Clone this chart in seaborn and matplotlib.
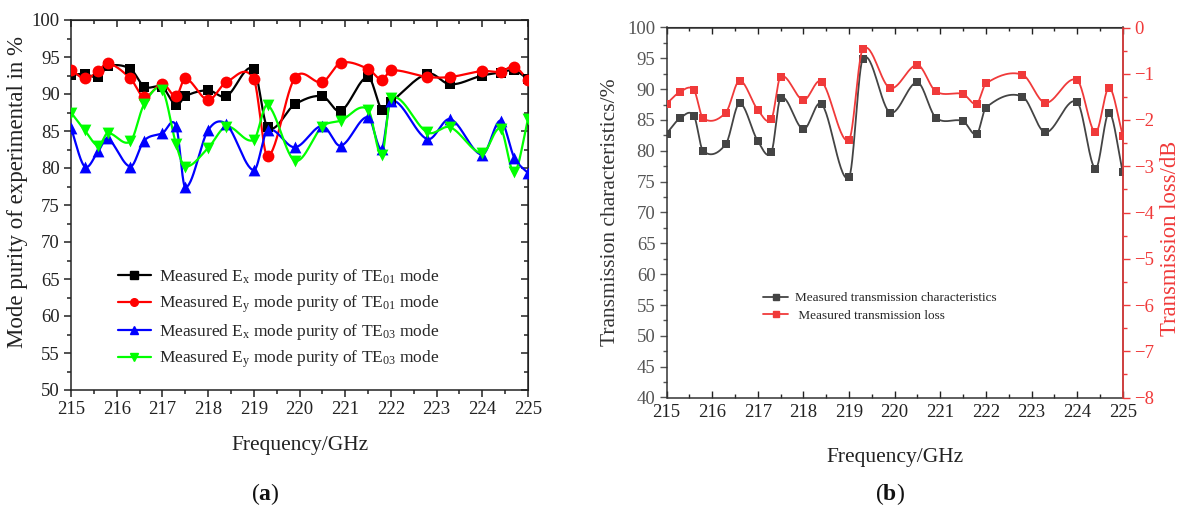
import numpy as np
import pandas as pd
import matplotlib
matplotlib.use("Agg")
import matplotlib.pyplot as plt
from matplotlib.lines import Line2D
from matplotlib.ticker import MultipleLocator
import seaborn as sns

# ---------------- data ----------------
freq = [215.0, 215.3, 215.6, 215.8, 216.3, 216.6, 217.0, 217.3, 217.5, 218.0,
        218.4, 219.0, 219.3, 219.9, 220.5, 220.9, 221.5, 221.8, 222.0, 222.8,
        223.3, 224.0, 224.4, 224.7, 225.0]

ex_te01 = [92.6, 92.7, 92.3, 93.75, 93.4, 91.0, 90.9, 88.45, 89.7, 90.5,
           89.7, 93.4, 85.5, 88.6, 89.7, 87.7, 92.3, 87.9, 88.9, 92.75,
           91.3, 92.5, 92.9, 93.2, 92.0]
ey_te01 = [93.3, 92.1, 93.1, 94.2, 92.1, 89.6, 91.4, 89.7, 92.1, 89.2,
           91.6, 92.0, 81.6, 92.2, 91.6, 94.2, 93.4, 91.9, 93.2, 92.3,
           92.3, 93.1, 93.0, 93.7, 91.9]
ex_te03 = [85.4, 80.2, 82.3, 84.0, 80.2, 83.7, 84.7, 85.7, 77.4, 85.1,
           85.9, 79.7, 85.1, 82.8, 85.7, 83.0, 86.9, 82.6, 89.1, 83.9,
           86.6, 81.8, 86.4, 81.4, 79.3]
ey_te03 = [87.5, 85.1, 83.0, 84.7, 83.6, 88.6, 90.5, 83.2, 80.2, 82.7,
           85.6, 83.8, 88.5, 81.0, 85.6, 86.4, 87.9, 81.7, 89.5, 84.8,
           85.5, 82.0, 85.3, 79.4, 86.6]

transmission = [82.8, 85.3, 85.7, 80.0, 81.1, 87.7, 81.6, 79.8, 88.6, 83.5,
                87.6, 75.7, 94.9, 86.2, 91.1, 85.4, 84.8, 82.7, 87.0, 88.8,
                83.0, 87.9, 77.1, 86.2, 76.5]
loss_db = [-1.65, -1.39, -1.35, -1.96, -1.84, -1.15, -1.78, -1.98, -1.06, -1.57,
           -1.17, -2.43, -0.47, -1.31, -0.81, -1.38, -1.44, -1.65, -1.21, -1.02,
           -1.63, -1.14, -2.27, -1.30, -2.34]

labels_a = [r"Measured E$_\mathregular{x}$ mode purity of TE$_\mathregular{01}$ mode",
            r"Measured E$_\mathregular{y}$ mode purity of TE$_\mathregular{01}$ mode",
            r"Measured E$_\mathregular{x}$ mode purity of TE$_\mathregular{03}$ mode",
            r"Measured E$_\mathregular{y}$ mode purity of TE$_\mathregular{03}$ mode"]
labels_b = ["Measured transmission characteristics", " Measured transmission loss"]

# ---------------- style ----------------
sns.set_style("ticks")
plt.rcParams["font.family"] = ["Liberation Serif", "DejaVu Serif"]
plt.rcParams["mathtext.fontset"] = "custom"
plt.rcParams["mathtext.rm"] = "Liberation Serif"
plt.rcParams["mathtext.bf"] = "Liberation Serif:bold"
plt.rcParams["mathtext.it"] = "Liberation Serif:italic"


def smooth(x, y, n=30):
    """Cubic Hermite curve through the points (centred-difference tangents)."""
    x = np.asarray(x, float)
    y = np.asarray(y, float)
    m = np.empty_like(y)
    m[1:-1] = (y[2:] - y[:-2]) / (x[2:] - x[:-2])
    m[0] = (y[1] - y[0]) / (x[1] - x[0])
    m[-1] = (y[-1] - y[-2]) / (x[-1] - x[-2])
    xs, ys = [], []
    for i in range(len(x) - 1):
        h = x[i + 1] - x[i]
        t = np.linspace(0, 1, n, endpoint=(i == len(x) - 2))
        h00 = 2 * t**3 - 3 * t**2 + 1
        h10 = t**3 - 2 * t**2 + t
        h01 = -2 * t**3 + 3 * t**2
        h11 = t**3 - t**2
        xs.append(x[i] + t * h)
        ys.append(h00 * y[i] + h10 * h * m[i] + h01 * y[i + 1] + h11 * h * m[i + 1])
    return pd.DataFrame({"x": np.concatenate(xs), "y": np.concatenate(ys)})


def draw_series(ax, x, y, color, marker, ms, lw):
    curve = smooth(x, y)
    sns.lineplot(data=curve, x="x", y="y", ax=ax, color=color, lw=lw,
                 sort=False, estimator=None, legend=False)
    pts = pd.DataFrame({"x": x, "y": y})
    sns.scatterplot(data=pts, x="x", y="y", ax=ax, color=color, marker=marker,
                    s=ms**2, edgecolor=color, linewidth=0, legend=False, zorder=3)


def mirror_ticks(ax, which_axis, major, minor, color, width):
    if which_axis == "x":
        sec = ax.secondary_xaxis("top")
        sec.xaxis.set_major_locator(MultipleLocator(major))
        sec.xaxis.set_minor_locator(MultipleLocator(minor))
        sec.tick_params(which="both", direction="in", labeltop=False,
                        width=width, colors=color)
    else:
        sec = ax.secondary_yaxis("right")
        sec.yaxis.set_major_locator(MultipleLocator(major))
        sec.yaxis.set_minor_locator(MultipleLocator(minor))
        sec.tick_params(which="both", direction="in", labelright=False,
                        width=width, colors=color)
    sec.tick_params(which="major", length=5)
    sec.tick_params(which="minor", length=3)


fig = plt.figure(figsize=(11.8, 5.12), dpi=100)

# ================= panel (a) =================
ax = fig.add_axes([71 / 1180, 1 - 390 / 512, 457 / 1180, 370 / 512])
series_a = [(ex_te01, "#000000", "s", 7.5),
            (ey_te01, "#ff0000", "o", 8.5),
            (ex_te03, "#0000ff", "^", 8.5),
            (ey_te03, "#00ff00", "v", 8.5)]
for vals, col, mk, ms in series_a:
    draw_series(ax, freq, vals, col, mk, ms, 1.6)

ax.set_xlim(215, 225)
ax.set_ylim(50, 100)
ax.xaxis.set_major_locator(MultipleLocator(1))
ax.xaxis.set_minor_locator(MultipleLocator(0.5))
ax.yaxis.set_major_locator(MultipleLocator(5))
ax.yaxis.set_minor_locator(MultipleLocator(2.5))
ax.tick_params(which="both", direction="out", colors="#222222", labelsize=13.5,
               width=1.1, pad=3)
ax.tick_params(which="major", length=5)
ax.tick_params(which="minor", length=3)
for sp in ax.spines.values():
    sp.set_linewidth(1.1)
    sp.set_color("#222222")
mirror_ticks(ax, "x", 1, 0.5, "#222222", 1.1)
mirror_ticks(ax, "y", 5, 2.5, "#222222", 1.1)

ax.set_xlabel("Frequency/GHz", fontsize=15.5, labelpad=13, color="#222222")
ax.set_ylabel("Mode purity of experimental in %", fontsize=16.5, color="#222222")
ax.yaxis.set_label_coords(-0.093, 0.535)

handles_a = [Line2D([], [], color=c, marker=m, markersize=5.5, lw=1.6)
             for _, c, m, _ in series_a]
ax.legend(handles_a, labels_a, loc="upper left", frameon=False, fontsize=12.5,
          bbox_to_anchor=(118 / 1180, 1 - 267 / 512), bbox_transform=fig.transFigure,
          borderpad=0, borderaxespad=0, handlelength=1.9, handletextpad=0.45,
          labelspacing=0.38)

fig.text(265 / 1180, 1 - 494 / 512, r"($\mathbf{a}$)", ha="center", va="center",
         fontsize=17, color="#111111")

# ================= panel (b) =================
bx = fig.add_axes([666.5 / 1180, 1 - 397.5 / 512, 456.3 / 1180, 370 / 512])
gray = "#444444"
red = "#f03a3a"
draw_series(bx, freq, transmission, gray, "s", 5.3, 1.3)
bx.set_xlim(215, 225)
bx.set_ylim(40, 100)
bx.xaxis.set_major_locator(MultipleLocator(1))
bx.xaxis.set_minor_locator(MultipleLocator(0.5))
bx.yaxis.set_major_locator(MultipleLocator(5))
bx.yaxis.set_minor_locator(MultipleLocator(2.5))
bx.tick_params(axis="y", which="both", direction="out", colors="#555555",
               labelsize=13.5, width=1.0, pad=3)
bx.tick_params(axis="x", which="both", direction="in", colors="#222222",
               labelsize=13.5, width=1.0, pad=5)
bx.tick_params(which="major", length=5)
bx.tick_params(which="minor", length=3)
for sp in bx.spines.values():
    sp.set_linewidth(1.1)
    sp.set_color("#333333")
mirror_ticks(bx, "x", 1, 0.5, "#222222", 1.0)

bx.set_ylabel("Transmission characteristics/%", fontsize=15.5, color="#333333")
bx.yaxis.set_label_coords(-0.103, 0.5)

rx = bx.twinx()
draw_series(rx, freq, loss_db, red, "s", 5.3, 1.3)
rx.set_ylim(-8, 0)
rx.yaxis.set_major_locator(MultipleLocator(1))
rx.yaxis.set_minor_locator(MultipleLocator(0.5))
rx.tick_params(axis="y", which="both", direction="out", colors=red,
               labelsize=13.5, width=1.0, pad=3)
rx.tick_params(which="major", length=5)
rx.tick_params(which="minor", length=3)
rx.spines["right"].set_color(red)
rx.spines["right"].set_linewidth(1.1)
for s in ("top", "left", "bottom"):
    rx.spines[s].set_visible(False)
rx.set_ylabel("Transmission loss/dB", fontsize=16.3, color=red)
rx.yaxis.set_label_coords(1.081, 0.43)
rx.set_xlabel("")
bx.set_xlabel("Frequency/GHz", fontsize=15.5, labelpad=19, color="#222222")

handles_b = [Line2D([], [], color=gray, marker="s", markersize=4.5, lw=1.3),
             Line2D([], [], color=red, marker="s", markersize=4.5, lw=1.3)]
rx.legend(handles_b, labels_b, loc="upper left", frameon=False, fontsize=9.5,
          bbox_to_anchor=(763 / 1180, 1 - 292 / 512), bbox_transform=fig.transFigure,
          borderpad=0, borderaxespad=0, handlelength=1.9, handletextpad=0.5,
          labelspacing=0.4)

fig.text(890 / 1180, 1 - 494 / 512, r"($\mathbf{b}$)", ha="center", va="center",
         fontsize=17, color="#111111")

fig.savefig("out.png", dpi=100, facecolor="white")
